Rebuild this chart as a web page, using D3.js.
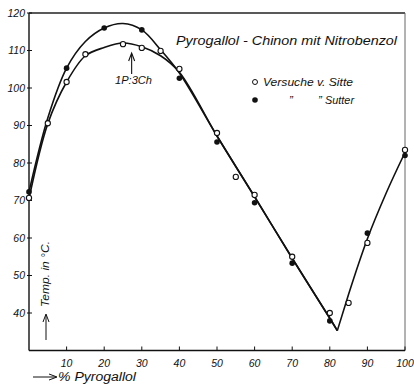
<!DOCTYPE html>
<meta charset="utf-8">
<style>
    body { margin: 0; background: #fff; }
    svg text { font-family: "Liberation Sans", sans-serif; font-style: italic; fill: #111; }
</style>
<svg width="414" height="385"></svg>
<script src="https://cdn.jsdelivr.net/npm/d3@7"></script>
<script>

    // measured points (% pyrogallol, temp in C)
    var sittePct = [0, 5, 10, 15, 25, 30, 35, 40, 50, 55, 60, 70, 80, 85, 90, 100];
    var sitteTemp = [70.7, 90.6, 101.6, 109, 111.7, 110.7, 109.9, 105.1, 88, 76.3, 71.5, 55, 40, 42.7, 58.7, 83.5];
    var sutterPct = [0, 10, 20, 30, 40, 50, 60, 70, 80, 90, 100];
    var sutterTemp = [72.3, 105.3, 116, 115.5, 102.6, 85.6, 69.4, 53.3, 37.9, 61.3, 82];

    // drawn curves
    var upperPct = [0, 5, 10, 15, 20, 25, 30, 35, 40, 50, 60, 70, 80, 82];
    var upperTemp = [72.3, 92, 105.3, 112.4, 116, 117.2, 115.5, 110.2, 104, 87.2, 71, 54.6, 38.6, 35.3];
    var lowerPct = [0, 5, 10, 15, 20, 25, 30, 35, 40, 50, 60, 70, 80, 82];
    var lowerTemp = [70.5, 90.5, 101.6, 108.6, 110.8, 112, 111, 108.6, 104.2, 87.2, 71, 54.6, 38.6, 35.3];
    var risePct = [82, 85, 90, 95, 100];
    var riseTemp = [35.3, 45, 59.8, 72, 82.8];

    var xTicks = [10, 20, 30, 40, 50, 60, 70, 80, 90, 100];
    var yTicks = [40, 50, 60, 70, 80, 90, 100, 110, 120];
    var ratioPct = 27.3;

    var svg = d3.select("svg"),
        width = +svg.attr("width"),
        height = +svg.attr("height");

    var x = d3.scaleLinear().domain([0, 100]).range([29, 405]);
    var y = d3.scaleLinear().domain([30, 120]).range([350.5, 13]);

    function pts(a, b) { return a.map(function (d, i) { return [d, b[i]]; }); }

    // frame
    svg.append("line").attr("x1", x(0)).attr("x2", x(100)).attr("y1", y(120)).attr("y2", y(120))
        .attr("stroke", "#222").attr("stroke-width", 1.3);
    svg.append("line").attr("x1", x(100)).attr("x2", x(100)).attr("y1", y(120)).attr("y2", y(30))
        .attr("stroke", "#666").attr("stroke-width", 1);

    // axes
    var xAxis = svg.append("g").attr("transform", "translate(0," + y(30) + ")");
    xAxis.append("line").attr("x1", x(0)).attr("x2", x(100)).attr("stroke", "#111").attr("stroke-width", 1.4);
    var xt = xAxis.selectAll("g").data(xTicks).enter().append("g")
        .attr("transform", function (d) { return "translate(" + x(d) + ",0)"; });
    xt.append("line").attr("y2", -4).attr("stroke", "#111");
    xt.append("text").attr("y", 16).attr("text-anchor", "middle").attr("font-size", 10.5)
        .text(function (d) { return d; });

    var yAxis = svg.append("g").attr("transform", "translate(" + x(0) + ",0)");
    yAxis.append("line").attr("y1", y(120)).attr("y2", y(30)).attr("stroke", "#111").attr("stroke-width", 1.4);
    var yt = yAxis.selectAll("g").data(yTicks).enter().append("g")
        .attr("transform", function (d) { return "translate(0," + y(d) + ")"; });
    yt.append("line").attr("x1", -2).attr("x2", 3).attr("stroke", "#111");
    yt.append("text").attr("x", -4).attr("dy", "0.35em").attr("text-anchor", "end").attr("font-size", 10.5)
        .text(function (d) { return d; });

    // curves
    var smooth = d3.line().x(function (d) { return x(d[0]); }).y(function (d) { return y(d[1]); })
        .curve(d3.curveCatmullRom.alpha(0.5));
    var rise = d3.line().x(function (d) { return x(d[0]); }).y(function (d) { return y(d[1]); })
        .curve(d3.curveMonotoneX);

    [pts(upperPct, upperTemp), pts(lowerPct, lowerTemp)].forEach(function (p) {
        svg.append("path").attr("d", smooth(p)).attr("fill", "none").attr("stroke", "#111").attr("stroke-width", 1.6);
    });
    svg.append("path").attr("d", rise(pts(risePct, riseTemp))).attr("fill", "none")
        .attr("stroke", "#111").attr("stroke-width", 1.6);

    // points
    svg.append("g").selectAll("circle").data(pts(sutterPct, sutterTemp)).enter().append("circle")
        .attr("cx", function (d) { return x(d[0]); }).attr("cy", function (d) { return y(d[1]); })
        .attr("r", 2.8).attr("fill", "#111");
    svg.append("g").selectAll("circle").data(pts(sittePct, sitteTemp)).enter().append("circle")
        .attr("cx", function (d) { return x(d[0]); }).attr("cy", function (d) { return y(d[1]); })
        .attr("r", 2.6).attr("fill", "#fff").attr("stroke", "#111").attr("stroke-width", 1.1);

    // 1P:3Ch marker
    var ax = x(ratioPct);
    svg.append("line").attr("x1", ax).attr("x2", ax).attr("y1", 54).attr("y2", 74).attr("stroke", "#111").attr("stroke-width", 1.1);
    svg.append("path").attr("d", "M" + (ax - 3) + ",61L" + ax + ",53L" + (ax + 3) + ",61").attr("fill", "none").attr("stroke", "#111").attr("stroke-width", 1.1);
    svg.append("text").attr("x", 115).attr("y", 84).attr("font-size", 11).attr("textLength", 37)
        .attr("lengthAdjust", "spacingAndGlyphs").text("1P:3Ch");

    // title
    svg.append("text").attr("x", 176).attr("y", 45).attr("font-size", 12).attr("textLength", 221)
        .attr("lengthAdjust", "spacingAndGlyphs").text("Pyrogallol - Chinon mit Nitrobenzol");

    // legend
    svg.append("circle").attr("cx", 255).attr("cy", 82).attr("r", 2.5).attr("fill", "#fff").attr("stroke", "#111");
    svg.append("circle").attr("cx", 255).attr("cy", 100).attr("r", 2.8).attr("fill", "#111");
    svg.append("text").attr("x", 263).attr("y", 86).attr("font-size", 11.5).attr("textLength", 90)
        .attr("lengthAdjust", "spacingAndGlyphs").text("Versuche v. Sitte");
    svg.append("text").attr("x", 289).attr("y", 104).attr("font-size", 11.5).text("\u201D");
    svg.append("text").attr("x", 318).attr("y", 104).attr("font-size", 11.5).text("\u201D");
    svg.append("text").attr("x", 325).attr("y", 104).attr("font-size", 11.5).attr("textLength", 29)
        .attr("lengthAdjust", "spacingAndGlyphs").text("Sutter");

    // axis titles
    svg.append("text").attr("transform", "translate(49,307)rotate(-90)").attr("font-size", 11.5)
        .attr("textLength", 66).attr("lengthAdjust", "spacingAndGlyphs").text("Temp. in °C.");
    svg.append("line").attr("x1", 46).attr("x2", 46).attr("y1", 340).attr("y2", 315).attr("stroke", "#111");
    svg.append("path").attr("d", "M43,322L46,314L49,322").attr("fill", "none").attr("stroke", "#111");

    svg.append("line").attr("x1", 33).attr("x2", 56).attr("y1", 377).attr("y2", 377).attr("stroke", "#111");
    svg.append("path").attr("d", "M49,374L57,377L49,380").attr("fill", "none").attr("stroke", "#111");
    svg.append("text").attr("x", 58).attr("y", 381).attr("font-size", 12.5).attr("textLength", 78)
        .attr("lengthAdjust", "spacingAndGlyphs").text("% Pyrogallol");
</script>
